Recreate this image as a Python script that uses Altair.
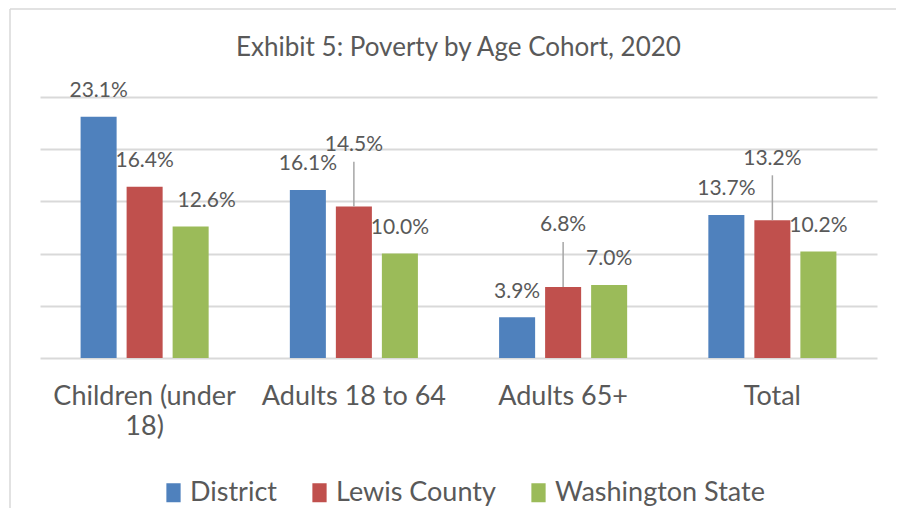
import altair as alt
import pandas as pd

categories = ["Children (under 18)", "Adults 18 to 64", "Adults 65+", "Total"]
series = ["District", "Lewis County", "Washington State"]
district = [23.1, 16.1, 3.9, 13.7]
lewis = [16.4, 14.5, 6.8, 13.2]
washington = [12.6, 10.0, 7.0, 10.2]
# Lewis County labels that Excel lifted and joined with a leader line
lewis_leader = [False, True, True, True]
colors = ["#4F81BD", "#C0504D", "#9BBB59"]

rows = []
for i, c in enumerate(categories):
    for s, vals in zip(series, [district, lewis, washington]):
        rows.append({
            "category": c,
            "series": s,
            "value": vals[i],
            "label": f"{vals[i]:.1f}%",
            "leader": bool(s == "Lewis County" and lewis_leader[i]),
        })
df = pd.DataFrame(rows)

FONT = "Lato"
TXT = "#595959"
GRID = "#D9D9D9"

x_enc = alt.X(
    "category:N", sort=categories,
    scale=alt.Scale(paddingInner=0.388, paddingOuter=0.194),
    axis=alt.Axis(
        title=None, ticks=False, domain=False, labelAngle=0,
        labelFont=FONT, labelFontSize=27, labelColor=TXT, labelPadding=25,
        labelLineHeight=30, labelLimit=300,
        labelExpr="datum.value == 'Children (under 18)' ? ['Children (under', '18)'] : datum.label",
    ),
)
xo_enc = alt.XOffset("series:N", sort=series,
                     scale=alt.Scale(paddingInner=0.217, paddingOuter=0))
y_scale = alt.Scale(domain=[0, 25], nice=False)

base = alt.Chart(df)

bars = base.mark_bar().encode(
    x=x_enc,
    xOffset=xo_enc,
    y=alt.Y("value:Q", scale=y_scale,
            axis=alt.Axis(title=None, labels=False, ticks=False, domain=False,
                          values=[0, 5, 10, 15, 20, 25],
                          gridColor=GRID, gridWidth=2)),
    color=alt.Color(
        "series:N", sort=series,
        scale=alt.Scale(domain=series, range=colors),
        legend=alt.Legend(
            title=None, orient="none", direction="horizontal",
            legendX=120, legendY=382, padding=0,
            labelFont=FONT, labelFontSize=27, labelColor=TXT, labelLimit=400,
            symbolType="M-0.75,-1H0.75V1H-0.75Z", symbolSize=361,
            symbolStrokeWidth=0, labelOffset=3, columnPadding=29,
        ),
    ),
)

labels_main = base.transform_filter(
    "!(datum.series == 'Washington State' && datum.category == 'Children (under 18)')"
).transform_calculate(
    ly="datum.value + (datum.leader ? 5.9 : 2.45)"
).mark_text(font=FONT, fontSize=21, color=TXT, baseline="middle").encode(
    x=alt.X("category:N", sort=categories),
    xOffset=alt.XOffset("series:N", sort=series),
    y=alt.Y("ly:Q", scale=y_scale),
    text="label:N",
)

labels_shift = base.transform_filter(
    "datum.series == 'Washington State' && datum.category == 'Children (under 18)'"
).transform_calculate(
    ly="datum.value + 2.45"
).mark_text(font=FONT, fontSize=21, color=TXT, baseline="middle", dx=16).encode(
    x=alt.X("category:N", sort=categories),
    xOffset=alt.XOffset("series:N", sort=series),
    y=alt.Y("ly:Q", scale=y_scale),
    text="label:N",
)

leaders = base.transform_filter("datum.leader").transform_calculate(
    ly2="datum.value + 4.3"
).mark_rule(color="#A6A6A6", strokeWidth=1.5).encode(
    x=alt.X("category:N", sort=categories),
    xOffset=alt.XOffset("series:N", sort=series),
    y=alt.Y("value:Q", scale=y_scale),
    y2="ly2:Q",
)

frame_src = alt.Chart(pd.DataFrame({"k": [0]}))
frame_left = frame_src.mark_rule(color=GRID, strokeWidth=1.5).encode(
    x=alt.value(-30), y=alt.value(-88), y2=alt.value(420))
frame_top = frame_src.mark_rule(color=GRID, strokeWidth=1.5).encode(
    x=alt.value(-30), x2=alt.value(860), y=alt.value(-88))

chart = alt.layer(frame_left, frame_top, bars, leaders, labels_main, labels_shift).properties(
    width=837, height=261,
    autosize="none",
    background="white",
    padding={"left": 32, "top": 89, "right": 19, "bottom": 150},
    title=alt.TitleParams(
        "Exhibit 5: Poverty by Age Cohort, 2020",
        font=FONT, fontSize=26, fontWeight="normal", color=TXT,
        anchor="middle", offset=-53,
    ),
).configure_view(stroke=None)

chart.save("out.html", embed_options={"renderer": "svg", "actions": False})
